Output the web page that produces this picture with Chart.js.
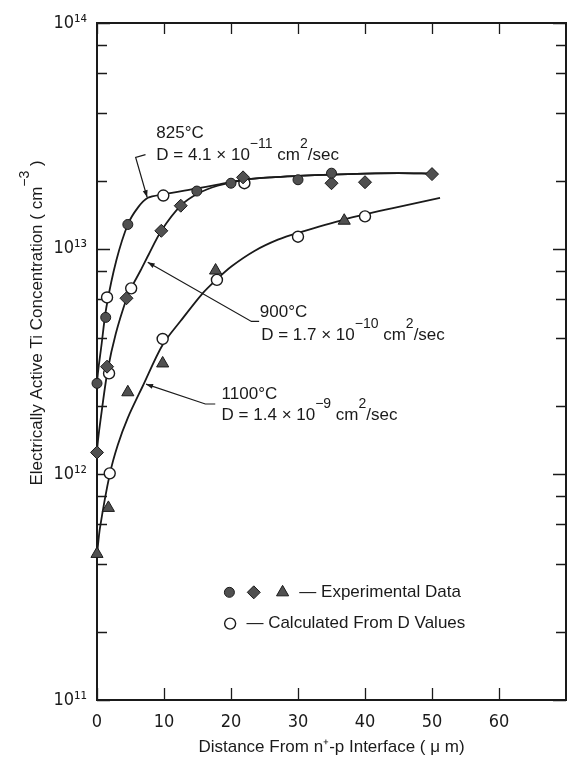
<!DOCTYPE html>
<html>
<head>
<meta charset="utf-8">
<title>Electrically Active Ti Concentration</title>
<script src="https://cdn.jsdelivr.net/npm/chart.js@4.4.1/dist/chart.umd.min.js"></script>
<style>
  html, body { margin: 0; padding: 0; background: #fff; overflow: hidden; }
  #wrap { width: 574px; height: 762px; position: relative; }
</style>
</head>
<body>
<div id="wrap"><canvas id="chart"></canvas></div>
<script>
// Data (x in um, y in cm^-3)

// 825 C
const exp825X = [0, 1.3, 4.6, 14.9, 20, 30, 35];
const exp825Y = [2.53e12, 4.96e12, 1.28e13, 1.80e13, 1.95e13, 2.02e13, 2.16e13];
const calc825X = [1.5, 9.9];
const calc825Y = [6.08e12, 1.72e13];
const fit825X = [0, 0, 0.7, 1.4, 2.9, 4.6, 6.1, 7.6, 9.9, 14.5, 18, 22, 26, 30, 35, 40, 45, 50];
const fit825Y = [1.0e12, 2.5e12, 3.8e12, 5.5e12, 8.9e12, 1.28e13, 1.52e13, 1.68e13, 1.74e13, 1.84e13, 1.92e13, 2.02e13, 2.07e13, 2.10e13, 2.13e13, 2.15e13, 2.16e13, 2.15e13];

// 900 C
const exp900X = [0, 1.5, 4.4, 9.6, 12.5, 21.8, 35, 40, 50];
const exp900Y = [1.25e12, 3.0e12, 6.03e12, 1.2e13, 1.55e13, 2.07e13, 1.95e13, 1.97e13, 2.14e13];
const calc900X = [1.8, 5.1, 22];
const calc900Y = [2.8e12, 6.67e12, 1.95e13];
const fit900X = [0, 0, 0.7, 1.6, 2.8, 4.4, 5.1, 6.5, 7.7, 9.6, 12.5, 15, 18, 22, 26, 30, 35, 40, 45, 50];
const fit900Y = [6.0e11, 1.25e12, 1.9e12, 2.9e12, 4.2e12, 6.0e12, 6.7e12, 8.0e12, 9.4e12, 1.2e13, 1.55e13, 1.75e13, 1.9e13, 2.02e13, 2.07e13, 2.10e13, 2.13e13, 2.15e13, 2.16e13, 2.15e13];

// 1100 C
const exp1100X = [0, 1.7, 4.6, 9.8, 17.7, 36.9];
const exp1100Y = [4.44e11, 7.1e11, 2.31e12, 3.1e12, 8.0e12, 1.33e13];
const calc1100X = [1.9, 9.8, 17.9, 30, 40];
const calc1100Y = [1.01e12, 3.98e12, 7.27e12, 1.13e13, 1.39e13];
const fit1100X = [0, 0.45, 1.9, 3.1, 4.6, 6.8, 9.8, 12.5, 15.7, 17.9, 20.1, 23.5, 27, 30, 37, 44, 51.2];
const fit1100Y = [4.4e11, 5.8e11, 1.0e12, 1.35e12, 1.78e12, 2.45e12, 3.75e12, 4.79e12, 6.31e12, 7.33e12, 8.36e12, 9.77e12, 1.096e13, 1.175e13, 1.35e13, 1.51e13, 1.68e13];

// Axis ticks
const xTickValues = [0, 10, 20, 30, 40, 50, 60];
const yTickValues = [1e11, 2e11, 4e11, 6e11, 8e11, 1e12, 2e12, 4e12, 6e12, 8e12,
                     1e13, 2e13, 4e13, 6e13, 8e13, 1e14];

const TEXT_FONT = "'Liberation Sans', Arial, sans-serif";
const TICK_FONT = "'Liberation Sans Narrow', 'DejaVu Sans Condensed', 'Liberation Sans', sans-serif";
const INK = '#1a1a1a';
const MARK_FILL = '#505050';

// Curve labels: text parts ([text, superscript?]) with anchors in data units
const curveNotes = [
  {
    lines: [
      { x: 8.85, y: 3.24e13, parts: [['825°C']] },
      { x: 8.85, y: 2.58e13, parts: [['D = 4.1 × 10'], ['−11', 1], [' cm'], ['2', 1], ['/sec']] }
    ],
    leader: [[7.24, 2.61e13], [5.77, 2.54e13], [7.48, 1.69e13]]
  },
  {
    lines: [
      { x: 24.3, y: 5.22e12, parts: [['900°C']] },
      { x: 24.5, y: 4.12e12, parts: [['D = 1.7 × 10'], ['−10', 1], [' cm'], ['2', 1], ['/sec']] }
    ],
    leader: [[24.2, 4.76e12], [23.05, 4.76e12], [7.57, 8.7e12]]
  },
  {
    lines: [
      { x: 18.6, y: 2.27e12, parts: [['1100°C']] },
      { x: 18.6, y: 1.82e12, parts: [['D = 1.4 × 10'], ['−9', 1], [' cm'], ['2', 1], ['/sec']] }
    ],
    leader: [[17.65, 2.05e12], [16.17, 2.05e12], [7.32, 2.51e12]]
  }
];

function pts(xs, ys) {
  return xs.map((x, i) => ({ x: x, y: ys[i] }));
}

const SUP = { '0': '⁰', '1': '¹', '2': '²', '3': '³', '4': '⁴', '5': '⁵',
              '6': '⁶', '7': '⁷', '8': '⁸', '9': '⁹', '-': '⁻' };
function sup(s) {
  return String(s).split('').map(c => SUP[c] || c).join('');
}

function fontFor(p, size) {
  return (p[1] ? Math.round(size * 0.85) : size) + 'px ' + TEXT_FONT;
}

function richWidth(ctx, parts, size) {
  let w = 0;
  parts.forEach(p => {
    ctx.font = fontFor(p, size);
    w += ctx.measureText(p[0]).width;
  });
  return w;
}

function drawRich(ctx, parts, x, y, size, align) {
  let cx = align === 'center' ? x - richWidth(ctx, parts, size) / 2 : x;
  ctx.textAlign = 'left';
  ctx.textBaseline = 'middle';
  parts.forEach(p => {
    ctx.font = fontFor(p, size);
    ctx.fillText(p[0], cx, p[1] ? y - size * 0.7 : y);
    cx += ctx.measureText(p[0]).width;
  });
}

function marker(ctx, style, x, y, r, filled) {
  ctx.beginPath();
  if (style === 'circle') {
    ctx.arc(x, y, r, 0, Math.PI * 2);
  } else if (style === 'rectRot') {
    ctx.moveTo(x, y - r); ctx.lineTo(x + r, y); ctx.lineTo(x, y + r); ctx.lineTo(x - r, y);
  } else if (style === 'triangle') {
    const s = Math.sin(Math.PI * 2 / 3) * r;
    ctx.moveTo(x, y - r); ctx.lineTo(x + s, y + r / 2); ctx.lineTo(x - s, y + r / 2);
  }
  ctx.closePath();
  ctx.fillStyle = filled ? MARK_FILL : '#fff';
  ctx.fill();
  ctx.strokeStyle = INK;
  ctx.lineWidth = filled ? 1 : 1.4;
  ctx.stroke();
}

// Frame, inward ticks, curve labels, legend and y title
const decorations = {
  id: 'decorations',
  beforeDatasetsDraw(chart) {
    const ctx = chart.ctx;
    const a = chart.chartArea;
    const xs = chart.scales.x, ys = chart.scales.y;
    ctx.save();
    ctx.strokeStyle = INK;
    ctx.lineWidth = 1.3;
    ctx.beginPath();
    xs.ticks.forEach(t => {
      const px = Math.round(xs.getPixelForValue(t.value)) + 0.5;
      ctx.moveTo(px, a.bottom); ctx.lineTo(px, a.bottom - 12);
      ctx.moveTo(px, a.top); ctx.lineTo(px, a.top + 11);
    });
    ys.ticks.forEach(t => {
      const py = Math.round(ys.getPixelForValue(t.value)) + 0.5;
      const e = Math.log10(t.value);
      const len = Math.abs(e - Math.round(e)) < 1e-6 ? 13 : 10;
      ctx.moveTo(a.left, py); ctx.lineTo(a.left + len, py);
      ctx.moveTo(a.right, py); ctx.lineTo(a.right - len, py);
    });
    ctx.stroke();
    ctx.lineWidth = 2;
    ctx.strokeRect(a.left, a.top, a.right - a.left, a.bottom - a.top);
    ctx.restore();
  },
  afterDatasetsDraw(chart) {
    const ctx = chart.ctx;
    const a = chart.chartArea;
    const xs = chart.scales.x, ys = chart.scales.y;
    const X = v => xs.getPixelForValue(v);
    const Y = v => ys.getPixelForValue(v);
    ctx.save();
    ctx.fillStyle = INK;
    ctx.strokeStyle = INK;

    curveNotes.forEach(n => {
      ctx.fillStyle = INK;
      n.lines.forEach(l => drawRich(ctx, l.parts, X(l.x), Y(l.y), 17));
      const p = n.leader.map(q => [X(q[0]), Y(q[1])]);
      ctx.lineWidth = 1.2;
      ctx.beginPath();
      ctx.moveTo(p[0][0], p[0][1]);
      for (let i = 1; i < p.length; i++) ctx.lineTo(p[i][0], p[i][1]);
      ctx.stroke();
      // arrowhead
      const tip = p[p.length - 1], prev = p[p.length - 2];
      const ang = Math.atan2(tip[1] - prev[1], tip[0] - prev[0]);
      ctx.beginPath();
      ctx.moveTo(tip[0], tip[1]);
      ctx.lineTo(tip[0] - 7 * Math.cos(ang) + 2.5 * Math.sin(ang), tip[1] - 7 * Math.sin(ang) - 2.5 * Math.cos(ang));
      ctx.lineTo(tip[0] - 7 * Math.cos(ang) - 2.5 * Math.sin(ang), tip[1] - 7 * Math.sin(ang) + 2.5 * Math.cos(ang));
      ctx.closePath();
      ctx.fill();
    });

    // legend
    const r1 = Y(3.0e11), r2 = Y(2.18e11);
    marker(ctx, 'circle', X(19.76), r1, 5, true);
    marker(ctx, 'rectRot', X(23.4), r1, 6.5, true);
    marker(ctx, 'triangle', X(27.7), r1, 7, true);
    marker(ctx, 'circle', X(19.87), r2, 5.5, false);
    ctx.fillStyle = INK;
    drawRich(ctx, [['— Experimental Data']], X(30.2), r1, 17);
    drawRich(ctx, [['— Calculated From D Values']], X(22.3), r2, 17);

    // y axis title
    ctx.translate(37, a.top + (a.bottom - a.top) * 0.443);
    ctx.rotate(-Math.PI / 2);
    drawRich(ctx, [['Electrically Active Ti Concentration ( cm'], ['−3', 1], [' )']], 0, 0, 17, 'center');
    ctx.restore();
  }
};

function scatterSet(xs, ys, style, radius, filled, order) {
  return {
    data: pts(xs, ys),
    showLine: false,
    pointStyle: style,
    pointRadius: radius,
    pointBackgroundColor: filled ? MARK_FILL : '#fff',
    pointBorderColor: INK,
    pointBorderWidth: filled ? 1 : 1.4,
    clip: false,
    order: order
  };
}

function curveSet(xs, ys) {
  return {
    data: pts(xs, ys),
    showLine: true,
    pointRadius: 0,
    borderColor: INK,
    borderWidth: 1.8,
    tension: 0.3,
    fill: false,
    clip: false,
    order: 3
  };
}

new Chart(document.getElementById('chart'), {
  type: 'scatter',
  data: {
    datasets: [
      curveSet(fit825X, fit825Y),
      curveSet(fit900X, fit900Y),
      curveSet(fit1100X, fit1100Y),
      scatterSet(calc825X, calc825Y, 'circle', 5.5, false, 2),
      scatterSet(calc900X, calc900Y, 'circle', 5.5, false, 2),
      scatterSet(calc1100X, calc1100Y, 'circle', 5.5, false, 2),
      scatterSet(exp825X, exp825Y, 'circle', 5, true, 1),
      scatterSet(exp900X, exp900Y, 'rectRot', 6.5, true, 1),
      scatterSet(exp1100X, exp1100Y, 'triangle', 7, true, 1)
    ]
  },
  options: {
    responsive: true,
    maintainAspectRatio: false,
    animation: false,
    events: [],
    layout: { padding: { left: 0, right: 4, top: 23, bottom: 0 } },
    plugins: {
      legend: { display: false },
      tooltip: { enabled: false }
    },
    scales: {
      x: {
        type: 'linear',
        min: 0,
        max: 70,
        afterBuildTicks: s => { s.ticks = xTickValues.map(v => ({ value: v })); },
        afterFit: s => { s.height = 62; },
        grid: { display: false },
        border: { display: false },
        ticks: {
          autoSkip: false,
          maxRotation: 0,
          padding: 4,
          color: INK,
          font: { family: TICK_FONT, size: 18 }
        },
        title: {
          display: true,
          text: 'Distance From n⁺-p Interface ( μ m)',
          color: INK,
          font: { family: TEXT_FONT, size: 17 },
          padding: { top: 0, bottom: 4 }
        }
      },
      y: {
        type: 'logarithmic',
        min: 1e11,
        max: 1e14,
        afterBuildTicks: s => { s.ticks = yTickValues.map(v => ({ value: v })); },
        afterFit: s => { s.width = 97; },
        grid: { display: false },
        border: { display: false },
        ticks: {
          autoSkip: false,
          padding: 2,
          color: INK,
          font: { family: TICK_FONT, size: 18 },
          callback: v => {
            const e = Math.log10(v);
            return Math.abs(e - Math.round(e)) < 1e-6 ? '10' + sup(Math.round(e)) : '';
          }
        }
      }
    }
  },
  plugins: [decorations]
});
</script>
</body>
</html>
